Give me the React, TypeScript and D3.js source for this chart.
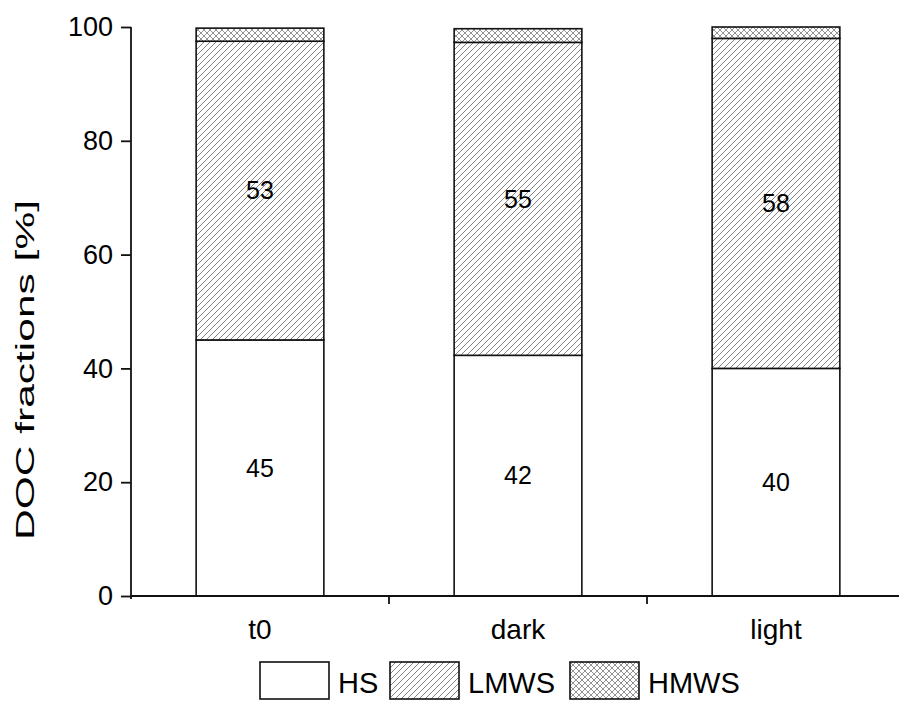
import React, { useEffect, useRef } from 'react';
import * as d3 from 'd3';

// Data
const categories = ['t0', 'dark', 'light'];
const hs = [45, 42.3, 40];
const lmws = [52.5, 55, 58];
const hmws = [2.3, 2.4, 2];
const seriesNames = ['HS', 'LMWS', 'HMWS'];
const yTicks = [0, 20, 40, 60, 80, 100];

const W = 899;
const H = 702;
const FONT = '"Liberation Sans", Arial, sans-serif';

const App = () => {
  const svgRef = useRef<SVGSVGElement>(null);

  useEffect(() => {
    const svg = d3.select(svgRef.current);
    svg.selectAll('*').remove();

    const x = d3.scaleBand().domain(categories).range([131, 905]).padding(0);
    const y = d3.scaleLinear().domain([0, 100]).range([596, 27]);

    // patterns
    const defs = svg.append('defs');
    const diag = defs
      .append('pattern')
      .attr('id', 'diag')
      .attr('patternUnits', 'userSpaceOnUse')
      .attr('width', 6)
      .attr('height', 6);
    diag.append('rect').attr('width', 6).attr('height', 6).attr('fill', '#fff');
    diag
      .append('path')
      .attr('d', 'M-1,7 L7,-1 M-4,4 L4,-4 M2,10 L10,2')
      .attr('stroke', '#666')
      .attr('stroke-width', 0.8);

    const cross = defs
      .append('pattern')
      .attr('id', 'cross')
      .attr('patternUnits', 'userSpaceOnUse')
      .attr('width', 6)
      .attr('height', 6);
    cross.append('rect').attr('width', 6).attr('height', 6).attr('fill', '#fff');
    cross
      .append('path')
      .attr('d', 'M-1,7 L7,-1 M-4,4 L4,-4 M2,10 L10,2 M-1,-1 L7,7 M-4,2 L2,8 M2,-4 L10,4')
      .attr('stroke', '#777')
      .attr('stroke-width', 0.8);

    const fills = ['#fff', 'url(#diag)', 'url(#cross)'];

    const rows = categories.map((c, i) => ({ cat: c, HS: hs[i], LMWS: lmws[i], HMWS: hmws[i] }));
    const stacked = d3.stack<any>().keys(seriesNames)(rows);

    const barW = x.bandwidth() * 0.495;

    stacked.forEach((layer, li) => {
      svg
        .append('g')
        .selectAll('rect')
        .data(layer)
        .join('rect')
        .attr('x', (d) => x(d.data.cat)! + (x.bandwidth() - barW) / 2)
        .attr('width', barW)
        .attr('y', (d) => y(d[1]))
        .attr('height', (d) => y(d[0]) - y(d[1]))
        .attr('fill', fills[li])
        .attr('stroke', '#111')
        .attr('stroke-width', 1.6);
    });

    // value labels for HS and LMWS
    stacked.slice(0, 2).forEach((layer) => {
      svg
        .append('g')
        .selectAll('text')
        .data(layer)
        .join('text')
        .attr('x', (d) => x(d.data.cat)! + x.bandwidth() / 2)
        .attr('y', (d) => y((d[0] + d[1]) / 2))
        .attr('dy', '0.35em')
        .attr('text-anchor', 'middle')
        .attr('font-family', FONT)
        .attr('font-size', 25)
        .text((d) => Math.round(d[1] - d[0]));
    });

    // y axis
    const yAxis = svg
      .append('g')
      .attr('transform', 'translate(131,0)')
      .call(d3.axisLeft(y).tickValues(yTicks).tickSize(10).tickPadding(8));
    yAxis.select('.domain').remove();
    yAxis.selectAll('line').attr('stroke', '#111').attr('stroke-width', 1.8);
    yAxis.selectAll('text').attr('font-family', FONT).attr('font-size', 27).attr('fill', '#000');
    svg
      .append('line')
      .attr('x1', 131)
      .attr('x2', 131)
      .attr('y1', y(100))
      .attr('y2', y(0) + 3)
      .attr('stroke', '#111')
      .attr('stroke-width', 1.8);

    // x axis
    svg
      .append('line')
      .attr('x1', 131)
      .attr('x2', 905)
      .attr('y1', y(0))
      .attr('y2', y(0))
      .attr('stroke', '#111')
      .attr('stroke-width', 1.8);
    svg
      .append('g')
      .selectAll('line')
      .data(categories.slice(1))
      .join('line')
      .attr('x1', (d) => x(d)!)
      .attr('x2', (d) => x(d)!)
      .attr('y1', y(0))
      .attr('y2', y(0) + 8)
      .attr('stroke', '#111')
      .attr('stroke-width', 1.8);
    svg
      .append('g')
      .selectAll('text')
      .data(categories)
      .join('text')
      .attr('x', (d) => x(d)! + x.bandwidth() / 2)
      .attr('y', 639)
      .attr('text-anchor', 'middle')
      .attr('font-family', FONT)
      .attr('font-size', 28)
      .text((d) => d);

    // y title
    svg
      .append('text')
      .attr('transform', 'translate(34,370) rotate(-90)')
      .attr('text-anchor', 'middle')
      .attr('font-family', FONT)
      .attr('font-size', 25)
      .attr('textLength', 340)
      .attr('lengthAdjust', 'spacingAndGlyphs')
      .text('DOC fractions [%]');

    // legend
    const legendX = [260, 390, 570];
    const lg = svg
      .append('g')
      .selectAll('g')
      .data(seriesNames)
      .join('g')
      .attr('transform', (_, i) => `translate(${legendX[i]},662)`);
    lg.append('rect')
      .attr('width', 69)
      .attr('height', 37)
      .attr('fill', (_, i) => fills[i])
      .attr('stroke', '#111')
      .attr('stroke-width', 1.6);
    lg.append('text')
      .attr('x', 78)
      .attr('y', 31)
      .attr('font-family', FONT)
      .attr('font-size', 29)
      .text((d) => d);
  }, []);

  return (
    <svg
      ref={svgRef}
      width={W}
      height={H}
      style={{ position: 'absolute', left: 0, top: 0, background: '#fff' }}
    />
  );
};

export default App;
